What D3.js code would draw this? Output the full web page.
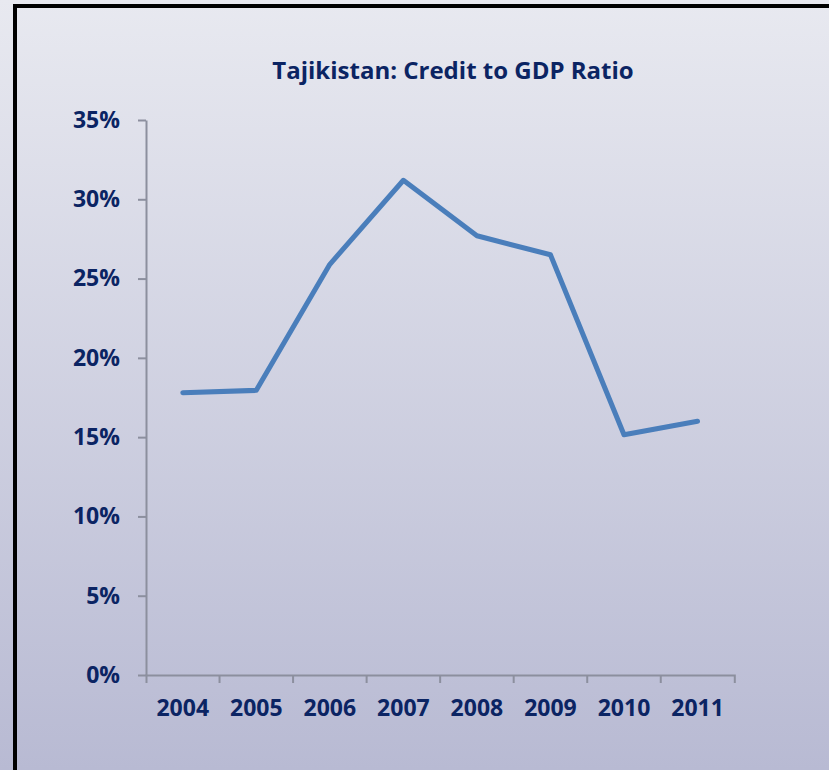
<!DOCTYPE html>
<html>
<head>
<meta charset="utf-8">
<script src="https://cdn.jsdelivr.net/npm/d3@7"></script>
<style>
  html, body { margin: 0; padding: 0; }
  body { width: 829px; height: 770px; overflow: hidden; }
  .chart text { font-family: "Open Sans", Lato, sans-serif; font-weight: bold; fill: #0b2463; }
</style>
</head>
<body>
<div id="chart" class="chart"></div>
<script>
const years = ["2004", "2005", "2006", "2007", "2008", "2009", "2010", "2011"];
const creditRatio = [17.8, 17.95, 25.9, 31.2, 27.7, 26.5, 15.15, 16.0];
const yTicks = [0, 5, 10, 15, 20, 25, 30, 35];
const title = "Tajikistan: Credit to GDP Ratio";

const width = 829, height = 770;

const svg = d3.select("#chart")
  .append("svg")
  .attr("width", width)
  .attr("height", height);

// background gradient
const defs = svg.append("defs");
const grad = defs.append("linearGradient")
  .attr("id", "bg")
  .attr("x1", 0).attr("y1", 0)
  .attr("x2", 0).attr("y2", 1);
grad.append("stop").attr("offset", "0%").attr("stop-color", "#e8e9f0");
grad.append("stop").attr("offset", "100%").attr("stop-color", "#b8bad3");

svg.append("rect")
  .attr("width", width)
  .attr("height", height)
  .attr("fill", "url(#bg)");

// frame (runs off the right and bottom edges)
svg.append("rect")
  .attr("x", 15)
  .attr("y", 6)
  .attr("width", 900)
  .attr("height", 900)
  .attr("fill", "none")
  .attr("stroke", "#000")
  .attr("stroke-width", 4);

const x = d3.scaleBand().domain(years).range([146, 734.3]);
const y = d3.scaleLinear().domain([0, 35]).range([675, 120]);

svg.append("text")
  .attr("x", 453)
  .attr("y", 79)
  .attr("text-anchor", "middle")
  .style("font-size", "24px")
  .text(title);

const yAxis = d3.axisLeft(y)
  .tickValues(yTicks)
  .tickFormat(d => d + "%")
  .tickSizeInner(8)
  .tickSizeOuter(0)
  .tickPadding(18);

const gy = svg.append("g")
  .attr("transform", `translate(${x.range()[0]},0)`)
  .call(yAxis);

const xAxis = d3.axisBottom(x)
  .tickSizeInner(0)
  .tickSizeOuter(8)
  .tickPadding(25);

const gx = svg.append("g")
  .attr("transform", `translate(0,${y(0)})`)
  .call(xAxis);

// boundary ticks between categories
gx.selectAll(".boundary")
  .data(years.slice(1))
  .enter().append("line")
  .attr("class", "boundary")
  .attr("x1", d => x(d))
  .attr("x2", d => x(d))
  .attr("y1", 0)
  .attr("y2", 8);

[gx, gy].forEach(g => {
  g.selectAll("path, line")
    .attr("stroke", "#8c8f9e")
    .attr("stroke-width", 2);
  g.selectAll("text")
    .attr("font-family", null)
    .attr("font-size", null)
    .style("font-size", "23px");
});

const line = d3.line()
  .x((d, i) => x(years[i]) + x.bandwidth() / 2)
  .y(d => y(d));

svg.append("path")
  .datum(creditRatio)
  .attr("d", line)
  .attr("fill", "none")
  .attr("stroke", "#4a7ebb")
  .attr("stroke-width", 5)
  .attr("stroke-linecap", "round")
  .attr("stroke-linejoin", "round");
</script>
</body>
</html>
